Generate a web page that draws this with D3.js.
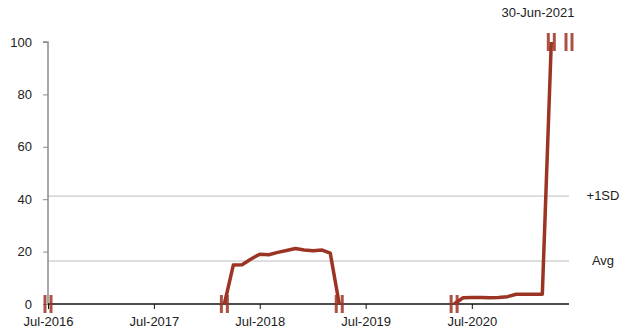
<!DOCTYPE html>
<html>
<head>
<meta charset="utf-8">
<script src="https://cdn.jsdelivr.net/npm/d3@7"></script>
<style>
  html, body { margin: 0; padding: 0; background: #fff; }
  svg { display: block; font-family: "Liberation Sans", Arial, sans-serif; }
</style>
</head>
<body>
<svg id="chart" width="620" height="334"></svg>
<script>
// Monthly readings, two active periods
const periodA = [
  ["2018-03-01", 0], ["2018-04-01", 14.9], ["2018-05-01", 15.0], ["2018-06-01", 17.2],
  ["2018-07-01", 19.0], ["2018-08-01", 18.8], ["2018-09-01", 19.7], ["2018-10-01", 20.4],
  ["2018-11-01", 21.2], ["2018-12-01", 20.6], ["2019-01-01", 20.3], ["2019-02-01", 20.6],
  ["2019-03-01", 19.4], ["2019-04-01", 0]
];
const periodB = [
  ["2020-05-01", 0], ["2020-06-01", 2.4], ["2020-07-01", 2.5], ["2020-08-01", 2.5],
  ["2020-09-01", 2.4], ["2020-10-01", 2.5], ["2020-11-01", 2.8], ["2020-12-01", 3.7],
  ["2021-01-01", 3.7], ["2021-02-01", 3.7], ["2021-03-01", 3.7], ["2021-04-01", 100]
];
// Break markers (date, value)
const breaks = [
  ["2016-07-01", 0], ["2018-03-01", 0], ["2019-04-01", 0],
  ["2020-05-01", 0], ["2021-04-01", 100], ["2021-06-01", 100]
];
// Reference levels
const refLines = [["+1SD", 41.2], ["Avg", 16.4]];
const yTicks = [0, 20, 40, 60, 80, 100];
const xTickDates = ["2016-07-01", "2017-07-01", "2018-07-01", "2019-07-01", "2020-07-01"];
const domainDates = ["2016-07-01", "2021-06-01"];
const lastLabel = "30-Jun-2021";

const parse = d3.timeParse("%Y-%m-%d");
const svg = d3.select("#chart");
const color = "#9c3424";

const x = d3.scaleTime().domain(domainDates.map(parse)).range([48, 569]);
const y = d3.scaleLinear().domain([0, 100]).range([304, 42]);

// Reference lines
svg.append("g").selectAll("line").data(refLines).join("line")
  .attr("x1", x.range()[0]).attr("x2", x.range()[1])
  .attr("y1", d => y(d[1])).attr("y2", d => y(d[1]))
  .attr("stroke", "#bcbcbc").attr("stroke-width", 1);
svg.append("g").selectAll("text").data(refLines).join("text")
  .attr("x", 603).attr("y", d => y(d[1]) + 1)
  .attr("text-anchor", "middle").attr("dominant-baseline", "middle")
  .attr("font-size", 13).attr("fill", "#222")
  .text(d => d[0]);

// Y axis
const yAxis = svg.append("g").attr("transform", "translate(48,0)")
  .call(d3.axisLeft(y).tickValues(yTicks).tickSize(5).tickPadding(11).tickFormat(d3.format("d")));
yAxis.select(".domain").attr("stroke", "#8a8a8a").attr("stroke-width", 1.5)
  .attr("d", `M-5,${y(100)}H0V${y(0)}`);
yAxis.selectAll(".tick line").attr("stroke", "#8a8a8a");
yAxis.selectAll("text").attr("font-size", 13).attr("fill", "#222")
  .attr("font-family", "Liberation Sans, Arial, sans-serif");

// X axis
const xAxis = svg.append("g").attr("transform", "translate(0,304)")
  .call(d3.axisBottom(x).tickValues(xTickDates.map(parse)).tickSize(5).tickPadding(8)
    .tickFormat(d3.timeFormat("%b-%Y")));
xAxis.select(".domain").attr("stroke", "#111").attr("stroke-width", 1.5)
  .attr("d", `M${x.range()[0]},0H${x.range()[1]}`);
xAxis.selectAll(".tick line").attr("stroke", "#111");
xAxis.selectAll("text").attr("font-size", 13).attr("fill", "#222")
  .attr("font-family", "Liberation Sans, Arial, sans-serif");

// Series line
const line = d3.line().x(d => x(parse(d[0]))).y(d => y(d[1]));
[periodA, periodB].forEach(series => {
  svg.append("path").datum(series)
    .attr("d", line)
    .attr("fill", "none").attr("stroke", color)
    .attr("stroke-width", 3.5).attr("stroke-linejoin", "round");
});

// Break markers: pairs of short vertical bars
const bg = svg.append("g");
breaks.forEach(([d, v]) => {
  const cx = x(parse(d)), cy = y(v);
  [-3, 3].forEach(off => {
    bg.append("rect")
      .attr("x", cx + off - 1.5).attr("y", cy - 9)
      .attr("width", 3).attr("height", 18)
      .attr("fill", color).attr("opacity", 0.85);
  });
});

// Last-date label
svg.append("text")
  .attr("x", 538).attr("y", 14)
  .attr("text-anchor", "middle").attr("dominant-baseline", "middle")
  .attr("font-size", 13).attr("fill", "#222")
  .text(lastLabel);
</script>
</body>
</html>
